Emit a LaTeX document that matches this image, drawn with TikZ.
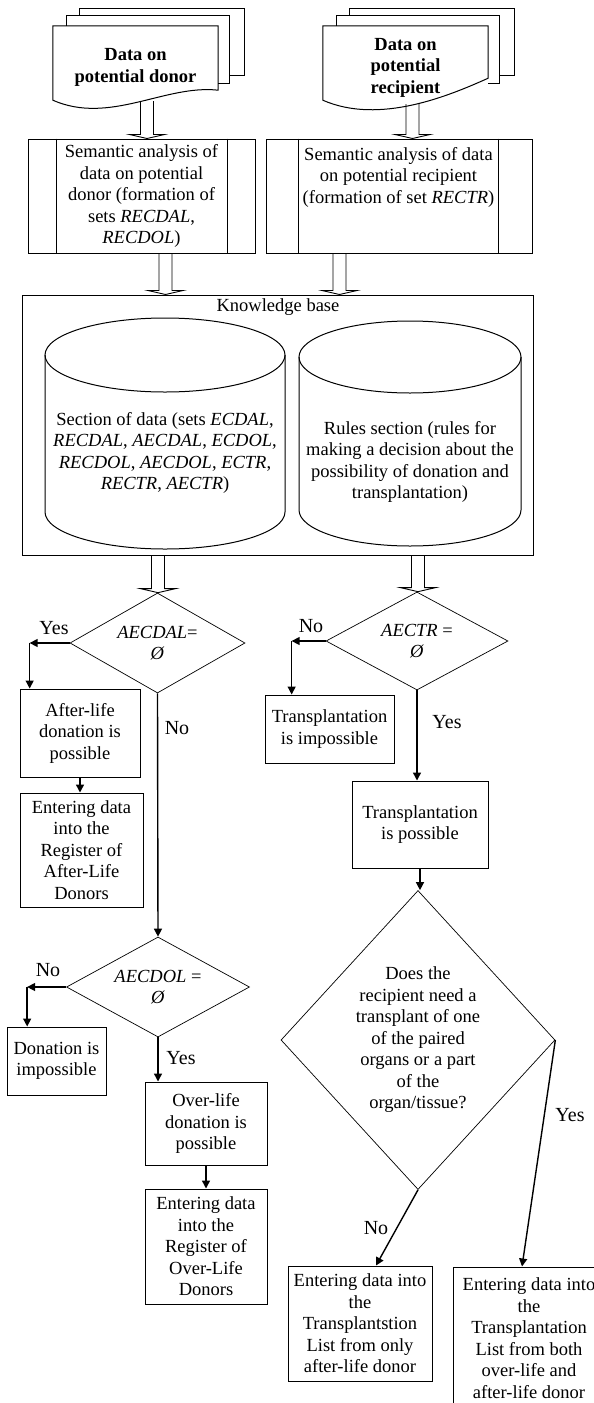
\documentclass[tikz,border=0pt]{standalone}
\usepackage{fontspec}
\setmainfont{Liberation Serif}
\usetikzlibrary{shapes.geometric,arrows.meta,positioning,calc}

\tikzset{
  txt/.style={font=\fontsize{18.5}{21.5}\selectfont, align=center, inner sep=0pt},
  doctext/.style={txt, font=\fontsize{18.5}{21.5}\selectfont\bfseries, minimum width=165, minimum height=83},
  lbl/.style={font=\fontsize{20}{22}\selectfont, inner sep=0pt},
  block/.style={txt, draw, line width=1pt},
  doc/.style={line width=1pt},
  decision/.style={txt, diamond, draw, line width=0.7pt},
  arr/.style={line width=1.4pt, -{Triangle[length=8pt,width=8pt]}},
  hollow/.style={line width=0.9pt, to path={let \p1=(\tikztostart), \p2=(\tikztotarget) in
      (\x1-6.5pt,\y1) -- (\x1-6.5pt,\y2+4pt) -- (\x1-17.5pt,\y2+4pt) -- (\x1,\y2)
      -- (\x1+17.5pt,\y2+4pt) -- (\x1+6.5pt,\y2+4pt) -- (\x1+6.5pt,\y1)}}
}

% stack of three documents drawn round a text node
% #2: height of the right end of the wave, #3: its first control point
\newcommand{\docstack}[3]{%
  \draw[doc] ($(#1.north west)+(27,-10)$) |- ($(#1.north east)+(26,-17)$) -- ($(#1.north east)+(26,50)$) -- ($(#1.north east)+(11,50)$);
  \draw[doc] ($(#1.north west)+(14,0)$) |- ($(#1.north east)+(11,-10)$) -- ($(#1.north east)+(11,58)$) -- ($(#1.north east)+(0,58)$);
  \draw[doc] ($(#1.south east)+(0,#2)$) .. controls ($(#1.south east)+(#3)$) and ($(#1.south west)+(57,16)$) .. ($(#1.south west)+(0,-9)$) -- (#1.north west) -- (#1.north east) -- cycle;
}
% database cylinder: axis x, top y, bottom y, x radius, y radius
\newcommand{\dbase}[5]{%
  \draw[doc] (#1,#2) ellipse [x radius=#4pt, y radius=#5pt];
  \draw[doc] (#1-#4,#2) -- (#1-#4,#3) arc [start angle=180, end angle=360, x radius=#4pt, y radius=#5pt] -- (#1+#4,#2);
}

\begin{document}
\begin{tikzpicture}[x=1pt,y=-1pt]
  \useasboundingbox (0,0) rectangle (594,1403);
  % input data
  \node[doctext] (ldoc) at (135.5,67.5) {Data on\\potential donor};
  \node[doctext] (rdoc) at (405.5,67.5) {Data on\\potential\\recipient};
  \docstack{ldoc}{-19}{-53,-25}
  \docstack{rdoc}{-31}{-38,-14}

  % semantic analysis
  \node[block, minimum width=227, minimum height=114] (lsem) at (141.5,196) {Semantic analysis of\\data on potential\\donor (formation of\\sets \textit{RECDAL},\\\textit{RECDOL})};
  \node[block, minimum width=266, minimum height=114] (rsem) at (399,196) {};
  \node[txt] (rsemtext) at (398.5,177) {Semantic analysis of data\\on potential recipient\\(formation of set \textit{RECTR})};
  \draw[doc] ([xshift=29pt]lsem.north west) -- ([xshift=29pt]lsem.south west);
  \draw[doc] ([xshift=-28pt]lsem.north east) -- ([xshift=-28pt]lsem.south east);
  \draw[doc] ([xshift=33pt]rsem.north west) -- ([xshift=33pt]rsem.south west);
  \draw[doc] ([xshift=-34pt]rsem.north east) -- ([xshift=-34pt]rsem.south east);
  \draw[hollow] ([xshift=11.5pt,yshift=8pt]ldoc.south) to (lsem.north);
  \draw[hollow] ([xshift=7pt,yshift=5pt]rdoc.south) to (rsem.north);

  % knowledge base
  \node[block, minimum width=511, minimum height=260] (kb) at (277.5,425) {};
  \node[txt] (kbtitle) at (278,307) {Knowledge base};
  \dbase{165}{355}{512}{120}{37}
  \dbase{410}{357}{510}{111}{36}
  \node[txt] (ldata) at (165,453) {Section of data (sets \textit{ECDAL},\\\textit{RECDAL}, \textit{AECDAL}, \textit{ECDOL},\\\textit{RECDOL}, \textit{AECDOL}, \textit{ECTR},\\\textit{RECTR}, \textit{AECTR})};
  \node[txt] (rrules) at (410,462) {Rules section (rules for\\making a decision about the\\possibility of donation and\\transplantation)};
  \draw[hollow] ([xshift=24pt]lsem.south) to (kb.north);
  \draw[hollow] ([xshift=-59.5pt]rsem.south) to (kb.north);

  % decisions
  \node[decision, minimum width=175, minimum height=100, aspect=1.75] (d1) at (157.5,643) {\textit{AECDAL}=\\\textit{Ø}};
  \node[decision, minimum width=182, minimum height=98, aspect=1.85] (d2) at (417,641) {\textit{AECTR} =\\\textit{Ø}};
  \node[decision, minimum width=183, minimum height=100, aspect=1.83] (d3) at (158,987) {\textit{AECDOL} =\\\textit{Ø}};
  \node[decision, minimum width=274, minimum height=299, aspect=0.92] (d4) at (418,1040) {Does the\\recipient need a\\transplant of one\\of the paired\\organs or a part\\of the\\organ/tissue?};
  \draw[hollow] ([xshift=-119.5pt]kb.south) to (d1.north);
  \draw[hollow] ([xshift=140.5pt]kb.south) to (d2.north);

  % results
  \node[block, minimum width=120, minimum height=88] (afterok) at (80,733) {After-life\\donation is\\possible};
  \node[block, minimum width=123, minimum height=114] (afterreg) at (81.5,850) {Entering data\\into the\\Register of\\After-Life\\Donors};
  \node[block, minimum width=129, minimum height=68] (trno) at (329.5,729) {Transplantation\\is impossible};
  \node[block, minimum width=136, minimum height=87] (trok) at (420,824.5) {Transplantation\\is possible};
  \node[block, minimum width=99, minimum height=68] (donno) at (56.5,1061) {Donation is\\impossible};
  \node[block, minimum width=122, minimum height=83] (overok) at (206,1123.5) {Over-life\\donation is\\possible};
  \node[block, minimum width=122, minimum height=115] (overreg) at (206,1246.5) {Entering data\\into the\\Register of\\Over-Life\\Donors};
  \node[block, minimum width=144, minimum height=115] (listonly) at (360,1323.5) {Entering data into\\the\\Transplantstion\\List from only\\after-life donor};
  \node[block, minimum width=152, minimum height=142] (listboth) at (529,1338) {Entering data into\\the\\Transplantation\\List from both\\over-life and\\after-life donor};

  % branches
  \coordinate (c1) at ([xshift=-40pt]d1.west);
  \coordinate (c2) at ([xshift=-34pt]d2.west);
  \coordinate (c3) at ([xshift=-39pt]d3.west);
  \draw[arr] (d1.west) -- (c1);
  \draw[arr] (c1) -- (c1 |- afterok.north);
  \draw[arr] (afterok.south) -- (afterok.south |- afterreg.north);
  \draw[arr] (d1.south) -- (d3.north);
  \draw[arr] (d3.west) -- (c3);
  \draw[arr] (c3) -- (c3 |- donno.north);
  \draw[arr] (d3.south) -- (d3.south |- overok.north);
  \draw[arr] (overok.south) -- (overreg.north);
  \draw[arr] (d2.west) -- (c2);
  \draw[arr] (c2) -- (c2 |- trno.north);
  \draw[arr] (d2.south) -- (d2.south |- trok.north);
  \draw[arr] (trok.south) -- (trok.south |- d4.north);
  \draw[arr] (d4.east) -- ([xshift=-7pt]listboth.north);
  \draw[arr] (d4.south) -- ([xshift=16pt]listonly.north);

  % branch labels
  \node[lbl] (yes1) at (54,628) {Yes};
  \node[lbl] (no1) at (177,728) {No};
  \node[lbl] (no2) at (48,970) {No};
  \node[lbl] (yes2) at (181,1058) {Yes};
  \node[lbl] (no3) at (311,626) {No};
  \node[lbl] (yes3) at (447,722) {Yes};
  \node[lbl] (yes4) at (570,1115) {Yes};
  \node[lbl] (no4) at (376,1228) {No};
\end{tikzpicture}
\end{document}
